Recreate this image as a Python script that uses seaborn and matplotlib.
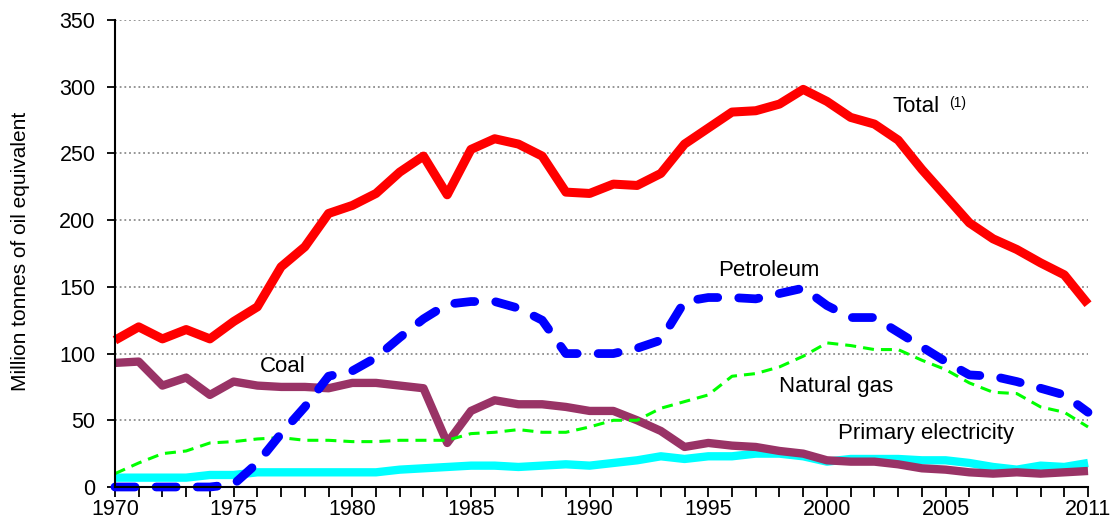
import numpy as np
import pandas as pd
import matplotlib
matplotlib.use("Agg")
import matplotlib.pyplot as plt
import seaborn as sns

# ---------------- data ----------------
years = list(range(1970, 2012))

total = [110, 120, 111, 118, 111, 124, 135, 165, 180, 205,
         211, 220, 236, 248, 219, 253, 261, 257, 248, 221,
         220, 227, 226, 235, 257, 269, 281, 282, 287, 298,
         289, 277, 272, 260, 238, 218, 198, 186, 178, 168,
         159, 137]

petroleum = [0, 0, 0, 0, 0, 2, 18, 40, 60, 83,
             87, 97, 112, 126, 137, 139, 139, 134, 125, 100,
             100, 100, 104, 110, 139, 142, 142, 141, 145, 149,
             136, 127, 127, 116, 105, 94, 84, 83, 79, 74,
             69, 56]

natural_gas = [10, 18, 25, 27, 33, 34, 36, 37, 35, 35,
               34, 34, 35, 35, 35, 40, 41, 43, 41, 41,
               45, 50, 50, 59, 64, 69, 83, 85, 90, 98,
               108, 106, 103, 103, 95, 88, 78, 71, 70, 60,
               56, 45]

coal = [93, 94, 76, 82, 69, 79, 76, 75, 75, 74,
        78, 78, 76, 74, 33, 57, 65, 62, 62, 60,
        57, 57, 50, 42, 30, 33, 31, 30, 27, 25,
        20, 19, 19, 17, 14, 13, 11, 10, 11, 10,
        11, 12]

primary_elec = [7, 7, 7, 7, 9, 9, 11, 11, 11, 11,
                11, 11, 13, 14, 15, 16, 16, 15, 16, 17,
                16, 18, 20, 23, 21, 23, 23, 25, 25, 23,
                19, 21, 21, 21, 20, 20, 18, 15, 13, 16,
                15, 18]

x_tick_labels = [1970, 1975, 1980, 1985, 1990, 1995, 2000, 2005, 2011]

df = pd.DataFrame({"year": years, "Total": total, "Petroleum": petroleum,
                   "Natural gas": natural_gas, "Coal": coal,
                   "Primary electricity": primary_elec})

# ---------------- plot ----------------
sns.set_style("white")
plt.rcParams["font.family"] = ["Liberation Sans", "DejaVu Sans"]
plt.rcParams["text.color"] = "black"
plt.rcParams["xtick.color"] = "black"
plt.rcParams["ytick.color"] = "black"
plt.rcParams["axes.labelcolor"] = "black"

fig = plt.figure(figsize=(11.15, 5.25), dpi=100)
ax = fig.add_axes([0.1031, 0.0724, 0.8727, 0.8895])

sns.lineplot(data=df, x="year", y="Primary electricity", ax=ax, color="#00FFFF",
             linewidth=6, solid_capstyle="butt", clip_on=False)
sns.lineplot(data=df, x="year", y="Coal", ax=ax, color="#993366",
             linewidth=6, solid_capstyle="butt", clip_on=False)
sns.lineplot(data=df, x="year", y="Natural gas", ax=ax, color="#00FF00",
             linewidth=2.2, linestyle=(0, (3.6, 2.3)), clip_on=False)
sns.lineplot(data=df, x="year", y="Petroleum", ax=ax, color="#0000FF",
             linewidth=6.3, linestyle=(0, (2.3, 2.4)), dash_capstyle="round",
             clip_on=False)
sns.lineplot(data=df, x="year", y="Total", ax=ax, color="#FF0000",
             linewidth=6.5, solid_capstyle="butt", clip_on=False)

ax.set_xlim(1970, 2011)
ax.set_ylim(0, 350)
ax.set_xticks(x_tick_labels)
ax.set_xticklabels([str(v) for v in x_tick_labels])
ax.set_xticks(years, minor=True)
ax.set_yticks(range(0, 351, 50))

for v in range(50, 351, 50):
    ax.axhline(v, color="#8c8c8c", linewidth=1.3, linestyle=(0, (1, 1.6)), zorder=0)

ax.tick_params(axis="x", which="both", direction="out", length=7, width=1.3,
               labelsize=15.5, pad=2, bottom=True)
ax.tick_params(axis="y", direction="out", length=6, width=1.3,
               labelsize=15.5, pad=8, left=True)

for s in ["top", "right"]:
    ax.spines[s].set_visible(False)
for s in ["left", "bottom"]:
    ax.spines[s].set_color("black")
    ax.spines[s].set_linewidth(1.5)

ax.set_xlabel("")
ax.set_ylabel("Million tonnes of oil equivalent", fontsize=15)
ax.yaxis.set_label_coords(-0.0874, 0.505)

# series labels
fs = 16
ax.text(1995.4, 162, "Petroleum", fontsize=fs, ha="left", va="center")
ax.text(1976.1, 90.5, "Coal", fontsize=fs, ha="left", va="center")
ax.text(1998.0, 75, "Natural gas", fontsize=fs, ha="left", va="center")
ax.text(2000.45, 40, "Primary electricity", fontsize=fs, ha="left", va="center")
ax.text(2002.78, 285.5, "Total", fontsize=fs, ha="left", va="center")
ax.text(2005.15, 288, "(1)", fontsize=10, ha="left", va="center")

fig.savefig("out.png", dpi=100)
